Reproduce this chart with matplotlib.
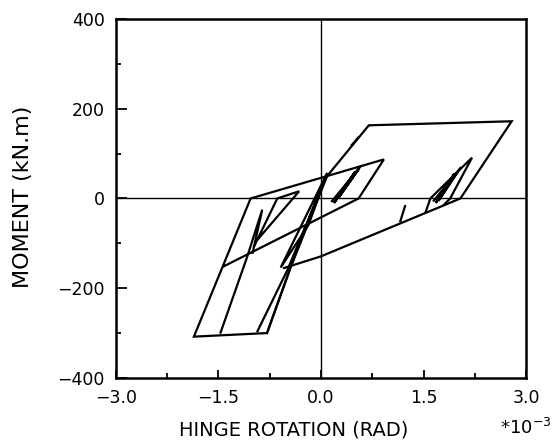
import numpy as np
import matplotlib as mpl
mpl.use("Agg")
import matplotlib.pyplot as plt
from matplotlib.ticker import MultipleLocator, FixedLocator

# hinge rotation (*1e-3 rad) / moment (kN.m), traced stroke by stroke
big_loop_x = [0.09, 0.70, 2.79, 2.04, 0.00, -0.54]
big_loop_y = [50, 163, 172, 0, -129, -155]

bottom_loop_x = [-0.46, -0.79, -1.86, -1.03, 0.92, 0.55, -1.42]
bottom_loop_y = [-160, -300, -308, 0, 87, 0, -151]

reload_x = [-0.79, -0.46, -0.20, 0.09]
reload_y = [-300, -160, -60, 50]

reload2_x = [-0.93, -0.49, -0.22]
reload2_y = [-296, -159, -60]

bundle_x = [-0.445, -0.10, 0.09, -0.59, -0.18, 0.05, -0.35, -0.02]
bundle_y = [-151, -20, 57, -154, -58, 40, -110, 15]

mid_steep_x = [-1.47, -1.08, -0.86, -1.00]
mid_steep_y = [-299, -130, -25, -121]

triangle_x = [-0.98, -0.64, -0.32, -0.93]
triangle_y = [-107, 0, 16, -92]

inner_mid_x = [0.16, 0.58, 0.25, 0.55, 0.19, 0.50, 0.22]
inner_mid_y = [-6, 72, 0, 65, -10, 60, -4]

small_right_x = [1.53, 1.60, 2.21, 1.89, 1.80]
small_right_y = [-31, 0, 91, 0, -14]

inner_right_x = [1.65, 2.05, 1.72, 2.00, 1.68, 1.95, 1.70]
inner_right_y = [-5, 70, -5, 60, -10, 55, -3]

tick_stroke_x = [1.23, 1.16]
tick_stroke_y = [-17, -51]

edge_stroke_x = [0.45, 0.54]
edge_stroke_y = [119, 135]

strokes = [
    (big_loop_x, big_loop_y), (bottom_loop_x, bottom_loop_y),
    (reload_x, reload_y), (reload2_x, reload2_y), (bundle_x, bundle_y),
    (mid_steep_x, mid_steep_y), (triangle_x, triangle_y),
    (inner_mid_x, inner_mid_y), (small_right_x, small_right_y),
    (inner_right_x, inner_right_y), (tick_stroke_x, tick_stroke_y),
    (edge_stroke_x, edge_stroke_y),
]

x_major = [-3.0, -1.5, 0.0, 1.5, 3.0]
x_labels = ["\u22123.0", "\u22121.5", "0.0", "1.5", "3.0"]
y_major = [-400, -200, 0, 200, 400]
y_labels = ["\u2212400", "\u2212200", "0", "200", "400"]

plt.rcParams["font.family"] = "DejaVu Sans"

fig = plt.figure(figsize=(5.59, 4.41), dpi=100)
ax = fig.add_axes([0.2075, 0.143, 0.7335, 0.814])

ax.axhline(0, color="black", lw=1.0)
ax.axvline(0, color="black", lw=1.0)
for xs, ys in strokes:
    ax.plot(xs, ys, color="black", lw=1.6, solid_joinstyle="miter")

ax.set_xlim(-3.0, 3.0)
ax.set_ylim(-400, 400)
ax.xaxis.set_major_locator(FixedLocator(x_major))
ax.set_xticklabels(x_labels)
ax.xaxis.set_minor_locator(MultipleLocator(0.75))
ax.yaxis.set_major_locator(FixedLocator(y_major))
ax.set_yticklabels(y_labels)
ax.yaxis.set_minor_locator(MultipleLocator(100))
ax.tick_params(which="both", direction="in", width=1.3, top=False, right=False)
ax.tick_params(axis="x", which="major", length=6, labelsize=12.5, pad=8)
ax.tick_params(axis="y", which="major", length=8, labelsize=12.5, pad=8)
ax.tick_params(which="minor", length=3.5)
for sp in ax.spines.values():
    sp.set_linewidth(1.8)

fig.text(0.042, 0.553, "MOMENT (kN.m)", rotation=90, fontsize=16,
         ha="center", va="center")
fig.text(0.526, 0.025, "HINGE ROTATION (RAD)", fontsize=14,
         ha="center", va="center")
fig.text(0.94, 0.03, "*10$^{-3}$", fontsize=13, ha="center", va="center")

fig.savefig("out.png", dpi=100)
